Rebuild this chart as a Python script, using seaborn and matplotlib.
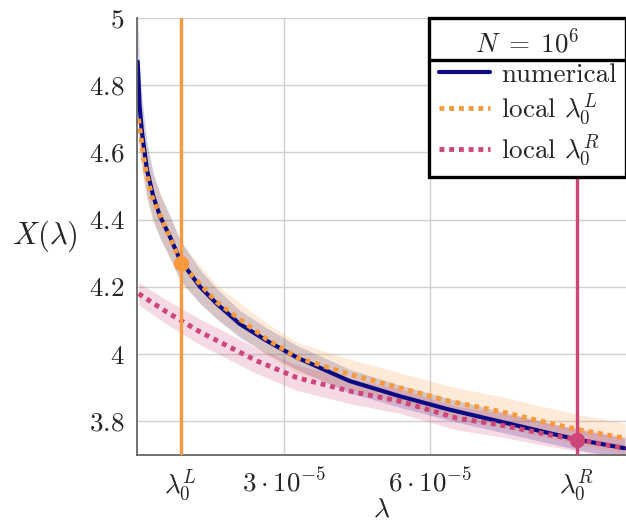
import numpy as np
import pandas as pd
import matplotlib
matplotlib.use("Agg")
import matplotlib.pyplot as plt
from matplotlib.lines import Line2D
import seaborn as sns

# values (lambda in units of 1e-5)
lam_num = [0.012, 0.05, 0.1, 0.2, 0.33, 0.47, 0.67, 0.88, 1.29, 1.63, 2.10,
           2.65, 3.27, 4.35, 5.37, 6.39, 7.41, 8.43, 9.04, 9.98]
x_num = [4.87, 4.74, 4.66, 4.55, 4.47, 4.41, 4.35, 4.28, 4.20, 4.15, 4.09,
         4.04, 3.99, 3.92, 3.875, 3.835, 3.80, 3.765, 3.745, 3.72]
err_num = [0.15, 0.12, 0.10, 0.08, 0.07, 0.065, 0.062, 0.06, 0.05, 0.045, 0.04,
           0.038, 0.036, 0.035, 0.033, 0.032, 0.031, 0.03, 0.03, 0.03]

lam_L = [0.027, 0.16, 0.30, 0.9, 1.63, 2.65, 3.27, 4.35, 5.37, 6.39, 7.41,
         8.43, 9.04, 9.98]
x_L = [4.70, 4.56, 4.47, 4.27, 4.155, 4.045, 3.99, 3.94, 3.90, 3.86, 3.83,
       3.795, 3.775, 3.75]
err_L = [0.08, 0.075, 0.07, 0.06, 0.05, 0.047, 0.045, 0.045, 0.045, 0.045, 0.045,
         0.045, 0.045, 0.045]

lam_R = [0.03, 0.61, 1.29, 2.45, 3.27, 4.35, 5.37, 6.53, 7.41, 8.43, 9.04, 9.98]
x_R = [4.18, 4.125, 4.066, 3.98, 3.93, 3.89, 3.86, 3.81, 3.79, 3.76, 3.745, 3.72]
err_R = [0.033, 0.036, 0.038, 0.038, 0.038, 0.037, 0.036, 0.035, 0.035, 0.034,
         0.034, 0.034]

lam0_L = 0.9e-5
lam0_R = 9.0e-5
dot_L = 4.27
dot_R = 3.745

xticks = [lam0_L, 3e-5, 6e-5, lam0_R]
xticklabels = [r"$\lambda_0^L$", r"$3\cdot10^{-5}$", r"$6\cdot10^{-5}$", r"$\lambda_0^R$"]
yticks = [3.8, 4.0, 4.2, 4.4, 4.6, 4.8, 5.0]
yticklabels = ["$3.8$", "$4$", "$4.2$", "$4.4$", "$4.6$", "$4.8$", "$5$"]

navy = "#0b0b86"
orange = "#f7993d"
pink = "#cf4578"

sns.set_style("whitegrid")
plt.rcParams["font.family"] = "serif"
plt.rcParams["font.serif"] = ["cmr10", "DejaVu Serif"]
plt.rcParams["mathtext.fontset"] = "cm"
plt.rcParams["axes.unicode_minus"] = False

fs = 19.5
lfs = 22

fig = plt.figure(figsize=(6.26, 5.25), dpi=100)
ax = fig.add_axes([0.219, 0.1333, 0.781, 0.8324])

def series(lam, x, err):
    d = pd.DataFrame({"lam": np.array(lam) * 1e-5, "X": x, "err": err})
    d["lo"] = d["X"] - d["err"]
    d["hi"] = d["X"] + d["err"]
    return d

dn = series(lam_num, x_num, err_num)
dl = series(lam_L, x_L, err_L)
dr = series(lam_R, x_R, err_R)

ax.fill_between(dn["lam"], dn["lo"], dn["hi"], color=navy, alpha=0.2, lw=0)
ax.fill_between(dl["lam"], dl["lo"], dl["hi"], color=orange, alpha=0.2, lw=0)
ax.fill_between(dr["lam"], dr["lo"], dr["hi"], color=pink, alpha=0.2, lw=0)

sns.lineplot(data=dn, x="lam", y="X", ax=ax, color=navy, lw=3, label="numerical")
sns.lineplot(data=dl, x="lam", y="X", ax=ax, color=orange, lw=3.5,
             linestyle=(0, (1, 1)), label=r"local $\lambda_0^L$")
sns.lineplot(data=dr, x="lam", y="X", ax=ax, color=pink, lw=3.5,
             linestyle=(0, (1, 1)), label=r"local $\lambda_0^R$")

ax.axvline(lam0_L, color=orange, lw=2.4, zorder=4)
ax.axvline(lam0_R, color=pink, lw=2.4, zorder=4)
ax.plot([lam0_L], [dot_L], "o", ms=10, color=orange, zorder=5)
ax.plot([lam0_R], [dot_R], "o", ms=10, color=pink, zorder=5)

ax.set_xlim(0, 1.0e-4)
ax.set_ylim(3.7, 5.0)
ax.set_xticks(xticks)
ax.set_xticklabels(xticklabels, fontsize=fs)
ax.set_yticks(yticks)
ax.set_yticklabels(yticklabels, fontsize=fs)
ax.tick_params(direction="in", length=5, color="#999999", width=1, pad=9)
ax.grid(True, color="#d0d0d0", lw=1)
for s in ["top", "right"]:
    ax.spines[s].set_visible(False)
for s in ["left", "bottom"]:
    ax.spines[s].set_color("#666666")
    ax.spines[s].set_linewidth(1.3)

ax.set_xlabel(r"$\lambda$", fontsize=20)
ax.xaxis.set_label_coords(0.5, -0.094)
ax.set_ylabel(r"$X(\lambda)$", fontsize=lfs, rotation=0, labelpad=8, va="center", ha="right")

leg = ax.legend(loc="upper right", bbox_to_anchor=(1.0, 1.0), borderaxespad=0,
                title=r"$N\;=\;10^6$", fontsize=fs, title_fontsize=fs,
                fancybox=False, framealpha=1, edgecolor="black",
                handlelength=1.9, handletextpad=0.4, labelspacing=0.2,
                borderpad=0.35)
leg.get_frame().set_linewidth(2.4)
leg.set_zorder(10)

fig.canvas.draw()
r = fig.canvas.get_renderer()
fb = leg.get_frame().get_window_extent(r)
tb = leg.get_title().get_window_extent(r)
t0 = leg.get_texts()[0].get_window_extent(r)
ysep = (tb.y0 + t0.y1) / 2
W, H = fig.bbox.width, fig.bbox.height
fig.add_artist(Line2D([fb.x0 / W, fb.x1 / W], [ysep / H, ysep / H],
                      color="black", lw=2.4, zorder=11))

fig.savefig("out.png", dpi=100)
